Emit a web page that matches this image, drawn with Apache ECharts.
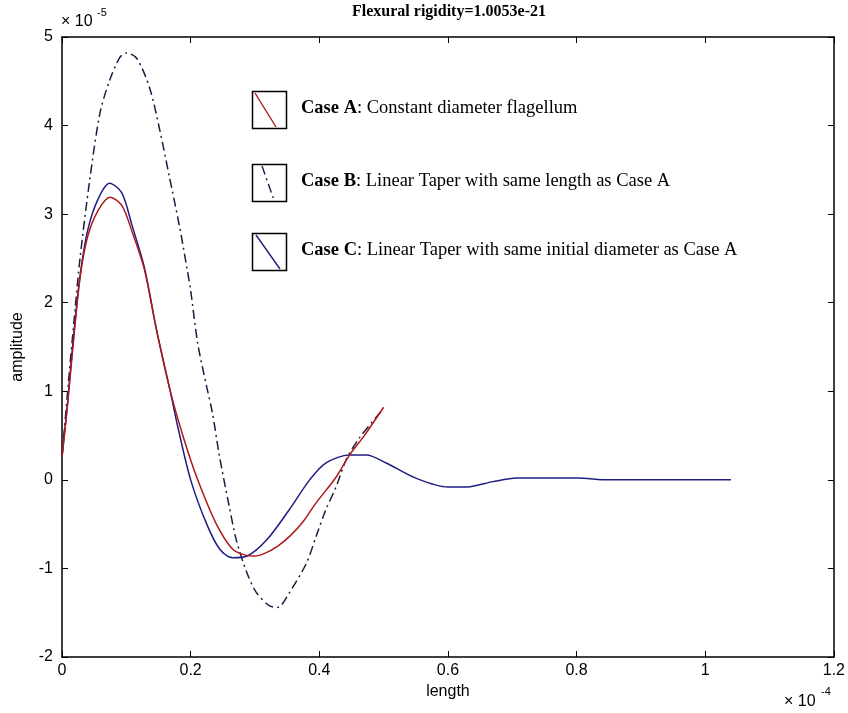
<!DOCTYPE html>
<html>
<head>
<meta charset="utf-8">
<title>Flexural rigidity</title>
<script src="https://cdn.jsdelivr.net/npm/echarts@6/dist/echarts.min.js"></script>
<style>
  html, body { margin: 0; padding: 0; background: #fff; }
  #chart { width: 848px; height: 713px; }
</style>
</head>
<body>
<div id="chart"></div>
<script>
// Amplitude profiles along the flagellum (length in 1e-4, amplitude in 1e-5)
const caseA_x = [0, 0.008, 0.016, 0.028, 0.04, 0.056, 0.075, 0.093, 0.109, 0.128, 0.147, 0.168, 0.19, 0.211, 0.24, 0.265, 0.285, 0.3, 0.315, 0.335, 0.355, 0.375, 0.395, 0.426, 0.447, 0.47, 0.5];
const caseA_y = [0.26, 0.8, 1.42, 2.28, 2.75, 3.04, 3.19, 3.1, 2.8, 2.38, 1.69, 1.01, 0.45, 0.0, -0.5, -0.78, -0.85, -0.86, -0.83, -0.75, -0.63, -0.47, -0.26, 0.03, 0.28, 0.5, 0.82];

const caseB_x = [0, 0.01, 0.02, 0.028, 0.043, 0.059, 0.074, 0.09, 0.1, 0.116, 0.136, 0.152, 0.167, 0.183, 0.194, 0.2, 0.211, 0.225, 0.234, 0.245, 0.26, 0.271, 0.287, 0.302, 0.322, 0.335, 0.353, 0.38, 0.395, 0.41, 0.426, 0.442, 0.462, 0.497];
const caseB_y = [0.26, 1.1, 1.9, 2.5, 3.38, 4.14, 4.51, 4.77, 4.82, 4.76, 4.43, 3.95, 3.42, 2.85, 2.4, 2.14, 1.54, 1.05, 0.75, 0.26, -0.3, -0.68, -1.04, -1.27, -1.42, -1.44, -1.28, -0.94, -0.64, -0.34, -0.08, 0.23, 0.47, 0.78];

const caseC_x = [0, 0.008, 0.016, 0.028, 0.04, 0.056, 0.074, 0.093, 0.109, 0.128, 0.147, 0.168, 0.18, 0.2, 0.225, 0.245, 0.265, 0.288, 0.318, 0.353, 0.385, 0.41, 0.447, 0.473, 0.504, 0.55, 0.6, 0.63, 0.67, 0.707, 0.8, 0.85, 1.04];
const caseC_y = [0.26, 0.82, 1.47, 2.3, 2.82, 3.17, 3.35, 3.24, 2.87, 2.4, 1.69, 1.01, 0.6, 0.0, -0.5, -0.78, -0.88, -0.86, -0.68, -0.34, 0.0, 0.19, 0.28, 0.28, 0.19, 0.02, -0.08, -0.08, -0.02, 0.02, 0.02, 0.0, 0.0];

// Legend entries: bold case name, plain description
const legendNames = ['Case A', 'Case B', 'Case C'];
const legendTexts = [': Constant diameter flagellum',
                     ': Linear Taper with same length as Case A',
                     ': Linear Taper with same initial diameter as Case A'];

const titleText = 'Flexural rigidity=1.0053e-21';
const xName = 'length';
const yName = 'amplitude';

const colorA = '#b01818';
const colorB = '#1c1c40';
const colorC = '#1e1e82';
const dashDot = [9, 4, 2, 4];

const zip = (xs, ys) => xs.map((x, i) => [x, ys[i]]);

const chart = echarts.init(document.getElementById('chart'), null, { renderer: 'canvas' });

const sans = 'Liberation Sans, Arial, sans-serif';
const serif = 'Liberation Serif, Times New Roman, serif';

// Legend sample boxes with diagonal line swatches
const boxTop = [91, 164, 233];
const legendGraphics = [];
const swatches = [
  { color: colorA, dash: null, x1: 255, x2: 276 },
  { color: colorB, dash: dashDot, x1: 262, x2: 274 },
  { color: colorC, dash: null, x1: 256, x2: 280 }
];
boxTop.forEach((t, i) => {
  legendGraphics.push({
    type: 'rect',
    shape: { x: 252.5, y: t + 0.5, width: 34, height: 37 },
    style: { fill: '#fff', stroke: '#000', lineWidth: 1.5 },
    z: 10
  });
  legendGraphics.push({
    type: 'line',
    shape: { x1: swatches[i].x1, y1: t + 2, x2: swatches[i].x2, y2: t + 36 },
    style: { stroke: swatches[i].color, lineWidth: 1.4, lineDash: swatches[i].dash },
    z: 11
  });
  legendGraphics.push({
    type: 'text',
    left: 301,
    top: t + 19 - 11,
    style: {
      text: '{b|' + legendNames[i] + '}{n|' + legendTexts[i] + '}',
      rich: {
        b: { fontFamily: serif, fontSize: 18.5, fontWeight: 'bold', fill: '#000' },
        n: { fontFamily: serif, fontSize: 18.5, fill: '#000' }
      }
    },
    z: 11
  });
});

const tickStyle = { show: true, inside: true, length: 6, lineStyle: { color: '#000' } };
const lineStyleAxis = { show: true, onZero: false, lineStyle: { color: '#000', width: 1.5 } };

const option = {
  backgroundColor: '#fff',
  animation: false,
  grid: { left: 62, top: 37, right: 12, bottom: 56, show: false },
  xAxis: [
    {
      type: 'value', min: 0, max: 1.2, interval: 0.2,
      name: xName, nameLocation: 'middle', nameGap: 26,
      nameTextStyle: { fontFamily: sans, fontSize: 16, color: '#000' },
      axisLine: lineStyleAxis,
      axisTick: tickStyle,
      axisLabel: { fontFamily: sans, fontSize: 16, color: '#000', margin: 6 },
      splitLine: { show: false }
    },
    {
      type: 'value', min: 0, max: 1.2, interval: 0.2, position: 'top',
      axisLine: lineStyleAxis,
      axisTick: tickStyle,
      axisLabel: { show: false },
      splitLine: { show: false }
    }
  ],
  yAxis: [
    {
      type: 'value', min: -2, max: 5, interval: 1,
      name: yName, nameLocation: 'middle', nameGap: 36, nameRotate: 90,
      nameTextStyle: { fontFamily: sans, fontSize: 16, color: '#000' },
      axisLine: lineStyleAxis,
      axisTick: tickStyle,
      axisLabel: { fontFamily: sans, fontSize: 16, color: '#000', margin: 9 },
      splitLine: { show: false }
    },
    {
      type: 'value', min: -2, max: 5, interval: 1, position: 'right',
      axisLine: lineStyleAxis,
      axisTick: tickStyle,
      axisLabel: { show: false },
      splitLine: { show: false }
    }
  ],
  series: [
    {
      name: legendNames[1], type: 'line', data: zip(caseB_x, caseB_y),
      smooth: 0.3, showSymbol: false, symbol: 'none',
      lineStyle: { color: colorB, width: 1.5, type: dashDot }, z: 3
    },
    {
      name: legendNames[2], type: 'line', data: zip(caseC_x, caseC_y),
      smooth: 0.3, showSymbol: false, symbol: 'none',
      lineStyle: { color: colorC, width: 1.5 }, z: 4
    },
    {
      name: legendNames[0], type: 'line', data: zip(caseA_x, caseA_y),
      smooth: 0.3, showSymbol: false, symbol: 'none',
      lineStyle: { color: colorA, width: 1.5 }, z: 5
    }
  ],
  graphic: [
    {
      type: 'text', x: 449, y: 4,
      style: { text: titleText, fontFamily: serif, fontSize: 16, fontWeight: 'bold', fill: '#000', textAlign: 'center', textVerticalAlign: 'top' }
    },
    { type: 'text', left: 61, top: 14, style: { text: '× 10', fontFamily: sans, fontSize: 16, fill: '#000' } },
    { type: 'text', left: 97, top: 7, style: { text: '-5', fontFamily: sans, fontSize: 11, fill: '#000' } },
    { type: 'text', left: 784, top: 694, style: { text: '× 10', fontFamily: sans, fontSize: 16, fill: '#000' } },
    { type: 'text', left: 821, top: 686, style: { text: '-4', fontFamily: sans, fontSize: 11, fill: '#000' } }
  ].concat(legendGraphics)
};

chart.setOption(option);
</script>
</body>
</html>
